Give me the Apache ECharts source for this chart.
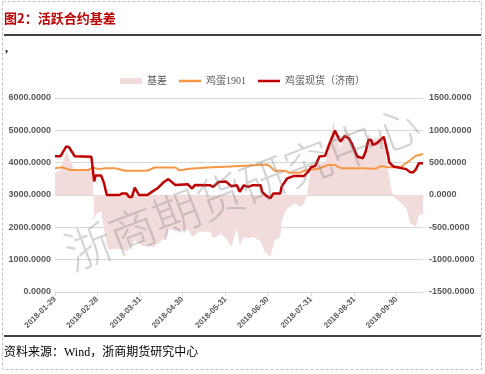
<!DOCTYPE html>
<html><head><meta charset="utf-8">
<script src="https://cdn.jsdelivr.net/npm/echarts@6/dist/echarts.min.js"></script>
<style>html,body{margin:0;padding:0;background:#fff}#c{width:485px;height:374px}</style>
</head><body><div id="c"></div>
<script>
var spotDates = ['2018-01-29','2018-02-02','2018-02-06','2018-02-08','2018-02-12','2018-02-24','2018-02-26','2018-02-27','2018-03-03','2018-03-05','2018-03-07','2018-03-16','2018-03-18','2018-03-21','2018-03-23','2018-03-25','2018-03-27','2018-03-30','2018-04-05','2018-04-09','2018-04-12','2018-04-17','2018-04-20','2018-04-25','2018-05-04','2018-05-07','2018-05-09','2018-05-20','2018-05-22','2018-05-26','2018-05-31','2018-06-04','2018-06-08','2018-06-10','2018-06-13','2018-06-16','2018-06-19','2018-06-25','2018-06-26','2018-06-29','2018-07-02','2018-07-04','2018-07-09','2018-07-10','2018-07-14','2018-07-19','2018-07-26','2018-07-29','2018-07-31','2018-08-03','2018-08-06','2018-08-10','2018-08-13','2018-08-17','2018-08-18','2018-08-21','2018-08-24','2018-08-27','2018-08-29','2018-09-02','2018-09-03','2018-09-06','2018-09-08','2018-09-10','2018-09-12','2018-09-13','2018-09-16','2018-09-21','2018-09-24','2018-09-25','2018-09-28','2018-10-07','2018-10-10','2018-10-12','2018-10-14','2018-10-16','2018-10-19'];
var spotValues = [4200,4200,4500,4480,4200,4180,3420,3600,3600,3370,3000,3000,3050,3050,2940,2940,3230,3000,3000,3120,3200,3410,3490,3310,3330,3200,3310,3300,3250,3400,3420,3270,3300,3100,3300,3250,3300,3300,3100,2970,2900,3050,3050,3260,3516,3590,3590,3720,3860,3900,4190,4210,4570,4990,4960,4650,4825,4750,4600,4190,4135,4135,4340,4700,4700,4550,4600,4800,4240,4000,3880,3800,3700,3700,3800,3980,3980];

var futDates = ['2018-01-29','2018-02-03','2018-02-09','2018-02-22','2018-02-25','2018-03-01','2018-03-06','2018-03-13','2018-03-20','2018-04-05','2018-04-10','2018-04-25','2018-04-28','2018-05-05','2018-05-18','2018-06-03','2018-06-20','2018-06-30','2018-07-02','2018-07-05','2018-07-12','2018-07-16','2018-07-23','2018-07-26','2018-07-31','2018-08-04','2018-08-12','2018-08-17','2018-08-20','2018-08-22','2018-09-06','2018-09-15','2018-09-19','2018-09-24','2018-10-03','2018-10-05','2018-10-10','2018-10-14','2018-10-19'];
var futValues = [3830,3860,3775,3775,3850,3800,3830,3830,3750,3750,3850,3850,3760,3810,3850,3880,3920,3940,3870,3752,3752,3690,3690,3750,3794,3794,3928,3928,3856,3825,3825,3810,3897,3856,3856,3928,4083,4216,4268];

var basisDates = ['2018-01-29','2018-02-02','2018-02-06','2018-02-12','2018-02-25','2018-02-26','2018-02-27','2018-03-03','2018-03-06','2018-03-08','2018-03-15','2018-03-22','2018-03-27','2018-04-02','2018-04-10','2018-04-18','2018-04-20','2018-04-25','2018-05-04','2018-05-07','2018-05-12','2018-05-20','2018-05-22','2018-05-28','2018-06-01','2018-06-04','2018-06-08','2018-06-10','2018-06-13','2018-06-16','2018-06-20','2018-06-25','2018-06-28','2018-07-02','2018-07-05','2018-07-09','2018-07-10','2018-07-13','2018-07-19','2018-07-23','2018-07-26','2018-07-28','2018-07-29','2018-07-31','2018-08-10','2018-08-13','2018-08-16','2018-08-18','2018-08-21','2018-08-24','2018-08-27','2018-08-29','2018-09-02','2018-09-06','2018-09-08','2018-09-10','2018-09-13','2018-09-16','2018-09-20','2018-09-22','2018-09-24','2018-09-26','2018-09-28','2018-10-02','2018-10-07','2018-10-10','2018-10-14','2018-10-16','2018-10-19'];
var basisValues = [335,400,670,390,390,-410,-300,-250,-650,-850,-826,-870,-700,-790,-800,-650,-520,-560,-540,-650,-570,-570,-670,-600,-700,-800,-520,-780,-650,-670,-650,-720,-880,-950,-700,-650,-410,-230,-130,-180,-130,0,130,410,515,800,1130,950,720,980,950,850,620,590,750,950,850,876,900,720,390,130,-30,-100,-206,-440,-490,-310,-300];

var tickDates = ['2018-01-29','2018-02-28','2018-03-31','2018-04-30','2018-05-31','2018-06-30','2018-07-31','2018-08-31','2018-09-30'];
var leftTicks = [0,1000,2000,3000,4000,5000,6000];
var rightTicks = [-1500,-1000,-500,0,500,1000,1500];
var seriesNames = ['基差','鸡蛋1901','鸡蛋现货（济南）'];

function ts(s){var p=s.split('-');return new Date(+p[0],+p[1]-1,+p[2]).getTime();}
function pairs(d,v){return d.map(function(x,i){return [ts(x),v[i]];});}
function pad(n){return n<10?'0'+n:''+n;}
function fmtDate(t){var d=new Date(t);return d.getFullYear()+'-'+pad(d.getMonth()+1)+'-'+pad(d.getDate());}

var chart = echarts.init(document.getElementById('c'));
var labelStyle = {color:'#595959',fontSize:9,fontWeight:'bold',fontFamily:'Liberation Sans, Arial, sans-serif'};
var lineIcon = 'path://M0,0h22v2.5h-22z';
chart.setOption({
  animation:false,
  legend:{
    top:71,left:'center',itemWidth:22,itemHeight:6,itemGap:12,symbolKeepAspect:true,
    textStyle:{color:'#595959',fontSize:10,fontFamily:'Liberation Serif, Noto Sans CJK SC'},
    data:[{name:seriesNames[0],icon:'rect'},{name:seriesNames[1],icon:lineIcon},{name:seriesNames[2],icon:lineIcon}]
  },
  grid:{left:55,right:62,top:98,bottom:82,containLabel:false},
  xAxis:{
    type:'value',min:ts('2018-01-29'),max:ts('2018-10-19'),
    axisLine:{lineStyle:{color:'#d9d9d9'}},
    axisTick:{show:true,customValues:tickDates.map(ts),lineStyle:{color:'#d9d9d9'},length:4},
    axisLabel:{customValues:tickDates.map(ts),rotate:45,formatter:function(v){return fmtDate(v);},color:'#595959',fontSize:8,fontWeight:'bold',fontFamily:'Liberation Sans, Arial, sans-serif',margin:6},
    splitLine:{show:false}
  },
  yAxis:[
    {type:'value',min:leftTicks[0],max:leftTicks[leftTicks.length-1],interval:1000,position:'left',
     axisLine:{show:false},axisTick:{show:false},
     splitLine:{lineStyle:{color:'#d9d9d9'}},
     axisLabel:Object.assign({formatter:function(v){return v.toFixed(4);},margin:4},labelStyle)},
    {type:'value',min:rightTicks[0],max:rightTicks[rightTicks.length-1],interval:500,position:'right',
     axisLine:{show:false},axisTick:{show:false},splitLine:{show:false},
     axisLabel:Object.assign({formatter:function(v){return v.toFixed(4);},margin:6},labelStyle)}
  ],
  series:[
    {name:seriesNames[0],type:'line',yAxisIndex:1,data:pairs(basisDates,basisValues),symbol:'none',
     lineStyle:{width:0},itemStyle:{color:'#F2DCDB'},areaStyle:{color:'#F2DCDB',opacity:1},z:1},
    {name:seriesNames[1],type:'line',yAxisIndex:0,data:pairs(futDates,futValues),symbol:'none',
     lineStyle:{width:2,color:'#F79646'},itemStyle:{color:'#F79646'},z:3},
    {name:seriesNames[2],type:'line',yAxisIndex:0,data:pairs(spotDates,spotValues),symbol:'none',
     lineStyle:{width:2.5,color:'#C00000'},itemStyle:{color:'#C00000'},z:4}
  ],
  graphic:[
    {type:'rect',shape:{x:2.5,y:1.5,width:479,height:368},style:{fill:'none',stroke:'#c0c0c0',lineWidth:1,lineDash:[3,2]},silent:true},
    {type:'text',x:4,y:18,style:{text:'图2：活跃合约基差',fill:'#C00000',fontSize:13,fontWeight:'bold',fontFamily:'Noto Sans CJK SC',textVerticalAlign:'middle'}},
    {type:'line',shape:{x1:4,y1:35,x2:481,y2:35},style:{stroke:'#000',lineWidth:1.5}},
    {type:'text',x:5,y:49,style:{text:',',fill:'#000',fontSize:12,fontWeight:'bold',fontFamily:'Liberation Serif',textVerticalAlign:'middle'}},
    {type:'line',shape:{x1:4,y1:336,x2:481,y2:336},style:{stroke:'#000',lineWidth:1.5}},
    {type:'text',x:4,y:353,style:{text:'资料来源：Wind，浙商期货研究中心',fill:'#000',fontSize:12,fontFamily:'Liberation Serif, Noto Sans CJK SC',textVerticalAlign:'middle'}},
    {type:'text',x:242,y:188,rotation:0.365,z:100,silent:true,style:{text:'浙商期货研究中心',fill:'rgba(120,120,120,0.32)',fontSize:47,fontWeight:300,fontFamily:'Noto Sans CJK SC',textAlign:'center',textVerticalAlign:'middle'}}
  ]
});
</script></body></html>
